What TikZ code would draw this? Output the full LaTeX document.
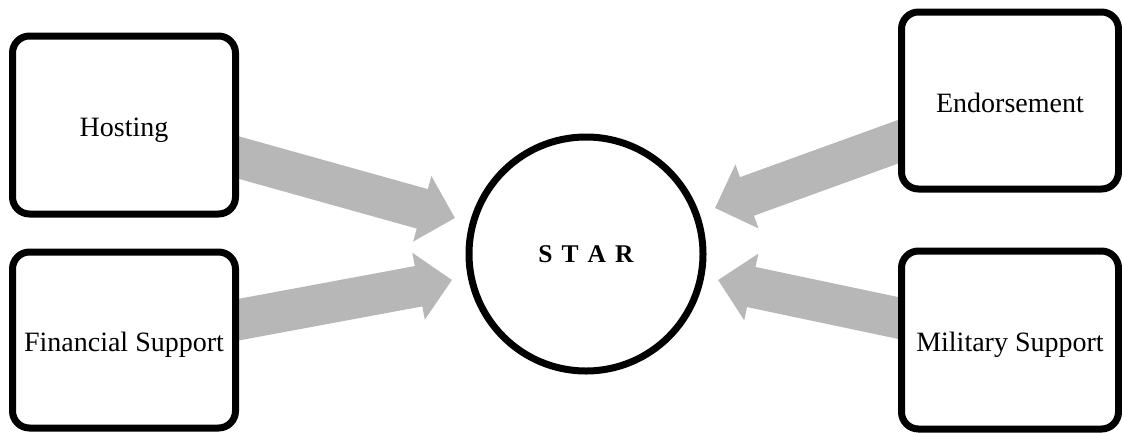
\documentclass[tikz,border=0pt]{standalone}
\usepackage{fontspec}
\setmainfont{Liberation Serif}
\usetikzlibrary{arrows.meta,calc,backgrounds}
\definecolor{arrowgray}{HTML}{B7B7B7}
\tikzset{
  box/.style={draw=black, line width=7pt, rounded corners=17pt, fill=white,
    rectangle, inner sep=0pt, text height=23.5pt, text depth=0pt,
    font=\fontsize{28}{32}\selectfont},
  bigarrow/.style={draw=arrowgray, line width=41pt,
    -{Triangle[length=34pt,width=66pt]}},
}
\begin{document}
\begin{tikzpicture}[x=1pt,y=-1pt]
\useasboundingbox (0,0) rectangle (1122,432);
\node[box, minimum width=223pt, minimum height=178pt] (hosting) at (124,125) {Hosting};
\node[box, minimum width=223pt, minimum height=176pt] (financial) at (124,340) {Financial Support};
\node[box, minimum width=217pt, minimum height=177pt] (endorse) at (1010,100.5) {Endorsement};
\node[box, minimum width=217pt, minimum height=178pt] (military) at (1010,340) {Military Support};
\node[circle, draw=black, line width=7pt, fill=white, minimum size=234pt, inner sep=0pt,
  font=\fontsize{25.5}{30}\selectfont\bfseries] (star) at (586,254)
  {S\hspace{9pt}T\hspace{9pt}A\hspace{9pt}R};
\coordinate (t1) at (455,218);
\coordinate (t2) at (452,280);
\coordinate (t3) at (715,208);
\coordinate (t4) at (718,280);
\begin{scope}[on background layer]
\draw[bigarrow] ($(hosting.east)+(-20.5,26.9)$) -- (t1);
\draw[bigarrow] ($(financial.east)+(-20.5,-16.6)$) -- (t2);
\draw[bigarrow] ($(endorse.west)+(21.5,33.5)$) -- (t3);
\draw[bigarrow] ($(military.west)+(21.5,-17.5)$) -- (t4);
\end{scope}
\end{tikzpicture}
\end{document}
